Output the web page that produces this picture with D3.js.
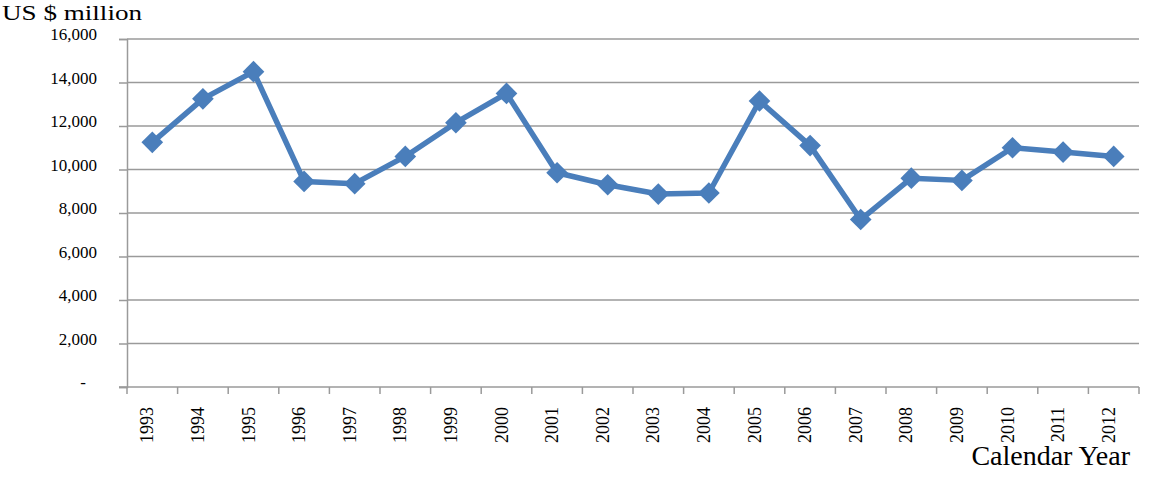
<!DOCTYPE html>
<html>
<head>
<meta charset="utf-8">
<script src="https://cdn.jsdelivr.net/npm/d3@7"></script>
<style>
  body { margin: 0; background: #fff; }
  text { font-family: "Liberation Serif", "Times New Roman", serif; fill: #000; }
</style>
</head>
<body>
<svg id="chart"></svg>
<script>
// data
const years = ["1993","1994","1995","1996","1997","1998","1999","2000","2001","2002",
               "2003","2004","2005","2006","2007","2008","2009","2010","2011","2012"];
const values = [11250, 13250, 14500, 9450, 9350, 10600, 12150, 13500, 9850, 9300,
                8870, 8920, 13150, 11100, 7700, 9600, 9500, 11000, 10800, 10600];
const yTicks = [0, 2000, 4000, 6000, 8000, 10000, 12000, 14000, 16000];

const width = 1149, height = 478;
const margin = { top: 39, right: 10, bottom: 91, left: 127 };

const svg = d3.select("#chart")
    .attr("width", width)
    .attr("height", height);

const x = d3.scaleBand()
    .domain(years)
    .range([margin.left, width - margin.right]);

const y = d3.scaleLinear()
    .domain([0, 16000])
    .range([height - margin.bottom, margin.top]);

const fmt = d => d === 0 ? "-" : d3.format(",")(d);

// gridlines
svg.append("g")
    .selectAll("line")
    .data(yTicks.filter(d => d > 0))
    .enter().append("line")
    .attr("x1", margin.left)
    .attr("x2", width - margin.right)
    .attr("y1", d => y(d))
    .attr("y2", d => y(d))
    .style("stroke", "#9a9a9a")
    .style("stroke-width", 1.5);

// y axis
const yAxis = svg.append("g")
    .attr("transform", `translate(${margin.left},0)`)
    .call(d3.axisLeft(y).tickValues(yTicks).tickFormat(fmt).tickSize(8));
yAxis.select(".domain").style("stroke", "#9a9a9a").style("stroke-width", 1.5);
yAxis.selectAll(".tick line").style("stroke", "#9a9a9a").style("stroke-width", 1.5);
yAxis.selectAll(".tick text")
    .style("font-size", "17px")
    .attr("dy", "0.05em")
    .attr("x", d => d === 0 ? -41 : -30);

// x axis: ticks on category boundaries
const bottom = height - margin.bottom;
svg.append("line")
    .attr("x1", margin.left - 8)
    .attr("x2", width - margin.right)
    .attr("y1", bottom).attr("y2", bottom)
    .style("stroke", "#9a9a9a")
    .style("stroke-width", 1.5);

const bounds = years.map(d => x(d)).concat([x(years[years.length - 1]) + x.bandwidth()]);
svg.append("g")
    .selectAll("line")
    .data(bounds)
    .enter().append("line")
    .attr("x1", d => d).attr("x2", d => d)
    .attr("y1", bottom).attr("y2", bottom + 7)
    .style("stroke", "#9a9a9a")
    .style("stroke-width", 1.5);

svg.append("g")
    .selectAll("text")
    .data(years)
    .enter().append("text")
    .attr("transform", d => `translate(${x(d) + x.bandwidth() / 2 + 1},${bottom + 20}) rotate(-90)`)
    .attr("text-anchor", "end")
    .style("font-size", "18px")
    .text(d => d);

// line + markers
const line = d3.line()
    .x((d, i) => x(years[i]) + x.bandwidth() / 2)
    .y(d => y(d));

svg.append("path")
    .datum(values)
    .attr("d", line)
    .style("fill", "none")
    .style("stroke", "#4a7ebb")
    .style("stroke-width", 5.5)
    .style("stroke-linejoin", "round");

svg.append("g")
    .selectAll("path")
    .data(values)
    .enter().append("path")
    .attr("d", d3.symbol().type(d3.symbolDiamond2).size(300))
    .attr("transform", (d, i) => `translate(${x(years[i]) + x.bandwidth() / 2},${y(d)})`)
    .style("fill", "#4a7ebb");

// titles
svg.append("text")
    .attr("x", 2)
    .attr("y", 19.7)
    .attr("textLength", 140)
    .attr("lengthAdjust", "spacingAndGlyphs")
    .style("font-size", "22px")
    .text("US $ million");

svg.append("text")
    .attr("x", 1130)
    .attr("y", 465)
    .attr("text-anchor", "end")
    .style("font-size", "28px")
    .text("Calendar Year");
</script>
</body>
</html>
